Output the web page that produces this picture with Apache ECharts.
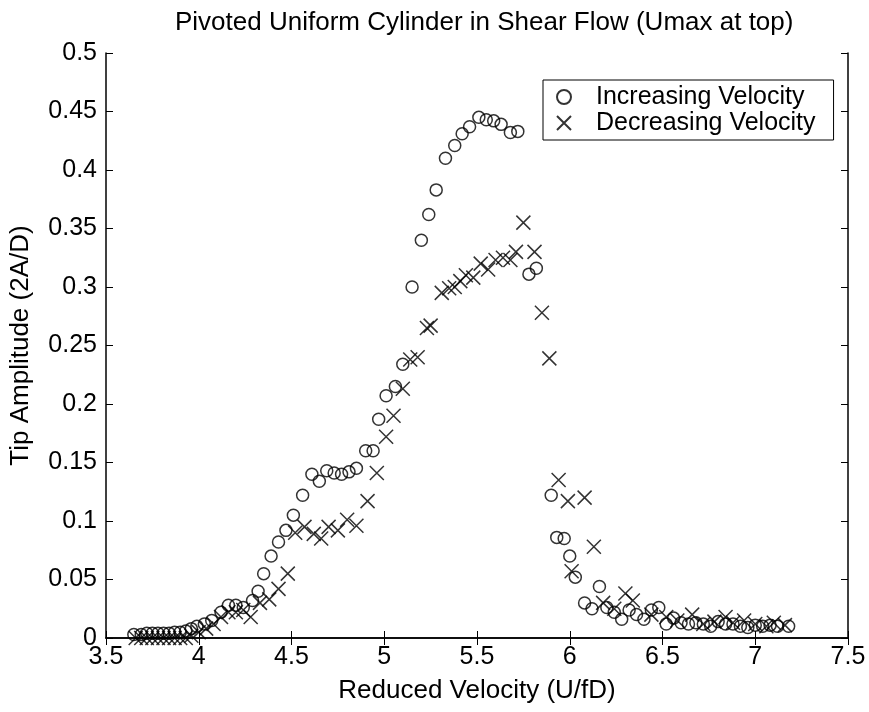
<!DOCTYPE html>
<html>
<head>
<meta charset="utf-8">
<script src="https://cdn.jsdelivr.net/npm/echarts@6/dist/echarts.min.js"></script>
<style>
html, body { margin: 0; padding: 0; background: #fff; }
#main { width: 869px; height: 712px; }
</style>
</head>
<body>
<div id="main"></div>
<script>
// increasing velocity (circles)
var incX = [3.65, 3.69, 3.72, 3.75, 3.78, 3.81, 3.84, 3.87, 3.90, 3.93, 3.96, 3.99, 4.03, 4.07, 4.12, 4.16, 4.20, 4.24, 4.29, 4.32,
	4.35, 4.39, 4.43, 4.47, 4.51, 4.56, 4.61, 4.65, 4.69, 4.73, 4.77, 4.81, 4.85, 4.90, 4.94, 4.97, 5.01, 5.06, 5.10, 5.15,
	5.20, 5.24, 5.28, 5.33, 5.38, 5.42, 5.46, 5.51, 5.55, 5.59, 5.63, 5.68, 5.72, 5.78, 5.82, 5.90, 5.93, 5.97, 6.00, 6.03,
	6.08, 6.12, 6.16, 6.20, 6.24, 6.28, 6.32, 6.36, 6.40, 6.44, 6.48, 6.52, 6.56, 6.60, 6.64, 6.68, 6.72, 6.76, 6.80, 6.84,
	6.88, 6.92, 6.96, 7.00, 7.04, 7.08, 7.12, 7.18];
var incY = [0.003, 0.003, 0.004, 0.004, 0.004, 0.004, 0.004, 0.005, 0.005, 0.006, 0.008, 0.010, 0.012, 0.015, 0.022, 0.028, 0.028, 0.026, 0.032, 0.040,
	0.055, 0.070, 0.082, 0.092, 0.105, 0.122, 0.140, 0.134, 0.143, 0.141, 0.140, 0.142, 0.145, 0.160, 0.160, 0.187, 0.207, 0.215, 0.234, 0.300,
	0.340, 0.362, 0.383, 0.410, 0.421, 0.431, 0.437, 0.445, 0.443, 0.442, 0.439, 0.432, 0.433, 0.311, 0.316, 0.122, 0.086, 0.085, 0.070, 0.052,
	0.030, 0.025, 0.044, 0.026, 0.022, 0.016, 0.024, 0.020, 0.016, 0.024, 0.026, 0.012, 0.017, 0.013, 0.012, 0.013, 0.012, 0.010, 0.014, 0.012,
	0.012, 0.010, 0.009, 0.011, 0.010, 0.011, 0.010, 0.010];

// decreasing velocity (crosses)
var decX = [3.66, 3.69, 3.72, 3.75, 3.78, 3.81, 3.84, 3.87, 3.90, 3.93, 3.96, 4.00, 4.04, 4.08, 4.12, 4.16, 4.20, 4.24, 4.28, 4.33,
	4.38, 4.43, 4.48, 4.52, 4.57, 4.62, 4.66, 4.70, 4.75, 4.80, 4.85, 4.91, 4.96, 5.01, 5.05, 5.10, 5.14, 5.18, 5.23, 5.25,
	5.31, 5.35, 5.38, 5.41, 5.44, 5.48, 5.52, 5.56, 5.60, 5.64, 5.68, 5.71, 5.75, 5.81, 5.85, 5.89, 5.94, 5.99, 6.01, 6.08,
	6.13, 6.18, 6.24, 6.30, 6.34, 6.44, 6.52, 6.58, 6.66, 6.72, 6.78, 6.84, 6.88, 6.94, 7.00, 7.06, 7.10, 7.16];
var decY = [0.000, 0.000, 0.000, 0.000, 0.000, 0.000, 0.000, 0.000, 0.000, 0.000, 0.002, 0.005, 0.008, 0.012, 0.018, 0.022, 0.022, 0.024, 0.018, 0.030,
	0.033, 0.042, 0.055, 0.090, 0.095, 0.089, 0.085, 0.095, 0.092, 0.101, 0.096, 0.117, 0.141, 0.172, 0.190, 0.213, 0.238, 0.240, 0.265, 0.267,
	0.295, 0.299, 0.300, 0.305, 0.310, 0.308, 0.320, 0.315, 0.323, 0.325, 0.323, 0.330, 0.355, 0.330, 0.278, 0.239, 0.135, 0.117, 0.057, 0.120,
	0.078, 0.030, 0.025, 0.038, 0.032, 0.020, 0.018, 0.015, 0.020, 0.012, 0.014, 0.018, 0.013, 0.015, 0.012, 0.010, 0.013, 0.011];

var xTicks = [3.5, 4, 4.5, 5, 5.5, 6, 6.5, 7, 7.5];
var yTicks = [0, 0.05, 0.1, 0.15, 0.2, 0.25, 0.3, 0.35, 0.4, 0.45, 0.5];

var pairs = function (xs, ys) {
	var out = [];
	for (var i = 0; i < xs.length; i++) out.push([xs[i], ys[i]]);
	return out;
};

var FONT = 'Liberation Sans';
var crossPath = 'path://M0,0L10,10M10,0L0,10';

var myChart = echarts.init(document.getElementById('main'));
var option = {
	backgroundColor: '#fff',
	animation: false,
	title: {
		text: 'Pivoted Uniform Cylinder in Shear Flow (Umax at top)',
		left: 170,
		top: 5,
		textStyle: { fontFamily: FONT, fontSize: 26, fontWeight: 'normal', color: '#000' }
	},
	legend: {
		orient: 'vertical',
		left: 543,
		top: 80,
		itemGap: 0,
		itemWidth: 14,
		itemHeight: 14,
		padding: [4, 18, 4, 13],
		borderColor: '#000',
		borderWidth: 1,
		backgroundColor: '#fff',
		textStyle: { fontFamily: FONT, fontSize: 25, lineHeight: 26, color: '#000', padding: [0, 0, 0, 20] },
		data: ['Increasing Velocity', 'Decreasing Velocity']
	},
	grid: { left: 106, right: 21, top: 53, bottom: 74, outerBoundsMode: 'none' },
	xAxis: [{
		type: 'value',
		min: 3.5, max: 7.5, interval: 0.5,
		name: 'Reduced Velocity (U/fD)',
		nameLocation: 'middle',
		nameGap: 40,
		nameMoveOverlap: false,
		nameTextStyle: { fontFamily: FONT, fontSize: 26, color: '#000' },
		axisLine: { show: true, lineStyle: { color: '#000', width: 1.5 } },
		axisTick: { inside: true, length: 7, lineStyle: { color: '#000' } },
		axisLabel: { fontFamily: FONT, fontSize: 25, color: '#000', margin: 7,
			formatter: function (v) { return xTicks.indexOf(v) >= 0 ? String(v) : ''; } },
		splitLine: { show: false }
	}, {
		type: 'value',
		position: 'top',
		min: 3.5, max: 7.5, interval: 0.5,
		axisLine: { show: true, lineStyle: { color: '#000', width: 1.5 } },
		axisTick: { inside: true, length: 7, lineStyle: { color: '#000' } },
		axisLabel: { show: false },
		splitLine: { show: false }
	}],
	yAxis: [{
		type: 'value',
		min: 0, max: 0.5, interval: 0.05,
		name: 'Tip Amplitude (2A/D)',
		nameLocation: 'middle',
		nameGap: 72,
		nameMoveOverlap: false,
		nameTextStyle: { fontFamily: FONT, fontSize: 26, color: '#000' },
		axisLine: { show: true, lineStyle: { color: '#000', width: 1.5 } },
		axisTick: { inside: true, length: 7, lineStyle: { color: '#000' } },
		axisLabel: { fontFamily: FONT, fontSize: 25, color: '#000', margin: 9,
			formatter: function (v) { return String(Math.round(v * 100) / 100); } },
		splitLine: { show: false }
	}, {
		type: 'value',
		position: 'right',
		min: 0, max: 0.5, interval: 0.05,
		axisLine: { show: true, lineStyle: { color: '#000', width: 1.5 } },
		axisTick: { inside: true, length: 7, lineStyle: { color: '#000' } },
		axisLabel: { show: false },
		splitLine: { show: false }
	}],
	series: [{
		name: 'Increasing Velocity',
		type: 'scatter',
		symbol: 'circle',
		symbolSize: 12,
		itemStyle: { color: 'rgba(0,0,0,0)', borderColor: '#000', borderWidth: 1.5 },
		data: pairs(incX, incY)
	}, {
		name: 'Decreasing Velocity',
		type: 'scatter',
		symbol: crossPath,
		symbolSize: 14,
		itemStyle: { color: 'rgba(0,0,0,0)', borderColor: '#000', borderWidth: 1.5 },
		data: pairs(decX, decY)
	}]
};
myChart.setOption(option);
window.onresize = myChart.resize;
</script>
</body>
</html>
